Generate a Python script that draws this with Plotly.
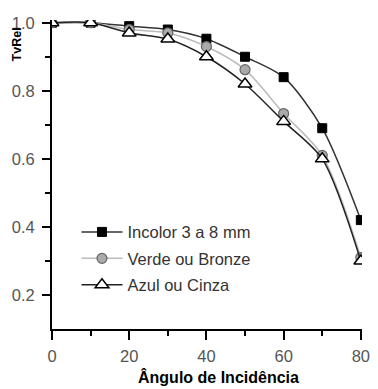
import plotly.graph_objects as go

angles = [0, 10, 20, 30, 40, 50, 60, 70, 80]
incolor = [1.0, 1.0, 0.99, 0.98, 0.953, 0.90, 0.84, 0.69, 0.42]
verde = [1.0, 1.0, 0.98, 0.97, 0.93, 0.862, 0.733, 0.61, 0.31]
azul = [1.0, 1.0, 0.97, 0.952, 0.90, 0.82, 0.71, 0.60, 0.30]
names = ["Incolor 3 a 8 mm", "Verde ou Bronze", "Azul ou Cinza"]
x_ticks = [0, 20, 40, 60, 80]
y_ticks = [0.2, 0.4, 0.6, 0.8, 1.0]

FONT = "Liberation Sans, Arial"

fig = go.Figure()
fig.add_trace(go.Scatter(
    x=angles, y=incolor, name=names[0], mode="lines+markers", legendgroup="a",
    line=dict(color="#333333", width=1.5, shape="spline", smoothing=0.8),
    marker=dict(symbol="square", size=9, color="black", line=dict(color="black", width=1))))
fig.add_trace(go.Scatter(
    x=angles, y=verde, name=names[1], mode="lines+markers", legendgroup="b",
    line=dict(color="#bbbbbb", width=1.5, shape="spline", smoothing=0.8),
    marker=dict(symbol="circle", size=10, color="#aaaaaa", line=dict(color="#666666", width=1.2))))
fig.add_trace(go.Scatter(
    x=angles, y=azul, name=names[2], mode="lines+markers", legendgroup="c",
    line=dict(color="#222222", width=1.5, shape="spline", smoothing=0.8),
    marker=dict(symbol="triangle-up", size=12, color="white", line=dict(color="black", width=1.5))))

fig.update_layout(
    width=378, height=389,
    margin=dict(l=52, r=8, t=20, b=60),
    paper_bgcolor="white", plot_bgcolor="white",
    font=dict(family=FONT, size=16.5, color="#555555"),
    showlegend=True,
    legend=dict(x=0.079, y=0.37, xanchor="left", yanchor="top",
                bgcolor="rgba(0,0,0,0)", font=dict(size=16.5, color="#333333"),
                itemwidth=41, tracegroupgap=2),
    xaxis=dict(range=[0, 80.3], tickvals=x_ticks, showgrid=False, zeroline=False,
               showline=True, linecolor="black", linewidth=2,
               ticks="outside", ticklen=9, tickwidth=2, tickcolor="black",
               ticklabelstandoff=2,
               minor=dict(tickvals=[10, 30, 50, 70], ticks="outside", ticklen=5, tickwidth=2, tickcolor="black"),
               tickfont=dict(size=16.5, color="#555555")),
    yaxis=dict(range=[0.1, 1.008], tickvals=y_ticks, tickformat=".1f", showgrid=False, zeroline=False,
               showline=True, linecolor="black", linewidth=2,
               ticks="outside", ticklen=8, tickwidth=2, tickcolor="black",
               ticklabelstandoff=4,
               minor=dict(tickvals=[0.3, 0.5, 0.7, 0.9], ticks="outside", ticklen=5, tickwidth=2, tickcolor="black"),
               tickfont=dict(size=16.5, color="#555555")),
    annotations=[
        dict(text="<b>Ângulo de Incidência</b>", xref="paper", yref="paper", x=0.536, y=-0.154,
             xanchor="center", yanchor="middle", showarrow=False,
             font=dict(family=FONT, size=16, color="black")),
        dict(text="<b>TvRel</b>", xref="paper", yref="paper", x=-0.112, y=0.922,
             textangle=-90, xanchor="center", yanchor="middle", showarrow=False,
             font=dict(family=FONT, size=12.5, color="black")),
    ],
)

fig.write_html("out.html", post_script="document.body.style.margin='0';",
               config={"displayModeBar": False})
